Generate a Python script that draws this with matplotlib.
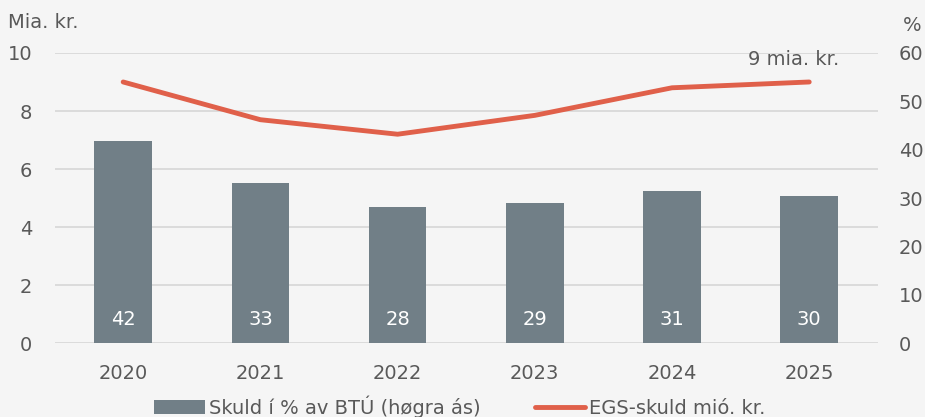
import matplotlib.pyplot as plt
import numpy as np

years = ['2020', '2021', '2022', '2023', '2024', '2025']
debt_pct = [41.8, 33.1, 28.1, 29.0, 31.4, 30.4]      # right axis, %
debt_bn = [9.0, 7.7, 7.2, 7.85, 8.8, 9.0]            # left axis, mia. kr.

bg = '#f5f5f5'
txt = '#595959'
bar_col = '#717f87'
line_col = '#e0604a'
fs = 14

plt.rcParams['font.family'] = ['DejaVu Sans']

fig = plt.figure(figsize=(9.25, 4.17), dpi=100, facecolor=bg)
ax = fig.add_axes([0.059, 0.177, 0.890, 0.696])
ax.set_facecolor(bg)
ax2 = ax.twinx()

x = np.arange(len(years))

# gridlines come from the left axis and sit behind the bars
ax.set_xlim(-0.5, 5.5)
ax.set_ylim(0, 10)
ax.set_yticks(range(0, 11, 2))
ax.yaxis.grid(True, color='#d9d9d9', lw=1.3)
ax2.set_ylim(0, 60)
ax2.set_yticks(range(0, 61, 10))

bars = ax2.bar(x, debt_pct, width=0.42, color=bar_col, zorder=2,
               label='Skuld í % av BTÚ (høgra ás)')
for xi, v in zip(x, debt_pct):
    ax2.text(xi, 4.8, f'{v:.0f}', ha='center', va='center',
             color='white', fontsize=fs)

# line uses the left-axis scale but is drawn in the top layer
line, = ax2.plot(x, debt_bn, transform=ax.transData, color=line_col, lw=3.5,
                 solid_capstyle='round', zorder=3, label='EGS-skuld mió. kr.')
ax2.set_ylim(0, 60)

ax.set_xticks(x)
ax.set_xticklabels(years)

for a in (ax, ax2):
    for s in a.spines.values():
        s.set_visible(False)
    a.tick_params(length=0, labelsize=fs, colors=txt)
ax.tick_params(axis='x', pad=15)
ax.tick_params(axis='y', pad=16)
ax2.tick_params(axis='y', pad=15)

fig.text(0.009, 0.945, 'Mia. kr.', color=txt, fontsize=fs, va='center')
fig.text(0.976, 0.94, '%', color=txt, fontsize=fs, va='center')

ax.text(4.886, 9.76, '9 mia. kr.', color=txt, fontsize=fs,
        ha='center', va='center')

fig.legend([bars, line], [bars.get_label(), line.get_label()],
           loc='center', bbox_to_anchor=(0.497, 0.025),
           ncol=2, frameon=False, fontsize=fs, labelcolor=txt,
           handlelength=2.6, handletextpad=0.2, columnspacing=2.8)

fig.savefig('out.png', dpi=100, facecolor=bg)
